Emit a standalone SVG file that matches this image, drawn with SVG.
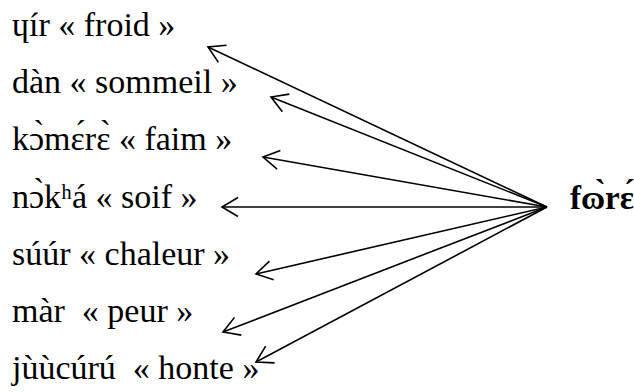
<svg xmlns="http://www.w3.org/2000/svg" width="634" height="392" viewBox="0 0 634 392">
<style>
.t{font-family:"Liberation Serif","DejaVu Serif",serif;font-size:34px;fill:#000;white-space:pre}
.b{font-weight:bold;font-size:33px}
.c{stroke:#000;stroke-width:1.6;fill:none;marker-end:url(#ah)}
</style>
<defs>
<marker id="ah" markerUnits="userSpaceOnUse" orient="auto" markerWidth="24" markerHeight="24" viewBox="-20 -12 24 24" refX="0" refY="0" overflow="visible">
<path d="M-16,-9.5 L0,0 L-16,9.5" fill="none" stroke="#000" stroke-width="1.6"/>
</marker>
</defs>
<rect width="634" height="392" fill="#fff"/>
<g id="connectors">
<line class="c" x1="547" y1="207" x2="208" y2="47"/>
<line class="c" x1="547" y1="207" x2="271" y2="97"/>
<line class="c" x1="547" y1="207" x2="263" y2="157"/>
<line class="c" x1="547" y1="207" x2="222" y2="207"/>
<line class="c" x1="547" y1="207" x2="256" y2="274"/>
<line class="c" x1="547" y1="207" x2="223" y2="332"/>
<line class="c" x1="547" y1="207" x2="256" y2="362"/>
</g>
<g id="froid"><text class="t" x="12" y="36">ɥír « froid »</text></g>
<g id="sommeil"><text class="t" x="12" y="93">dàn « sommeil »</text></g>
<g id="faim"><text class="t" x="12" y="150">kɔ̀mɛ́rɛ̀ « faim »</text></g>
<g id="soif"><text class="t" x="12" y="208">nɔ̀kʰá « soif »</text></g>
<g id="chaleur"><text class="t" x="12" y="265">súúr « chaleur »</text></g>
<g id="peur"><text class="t" x="12" y="322" xml:space="preserve">màr  « peur »</text></g>
<g id="honte"><text class="t" x="12" y="379" xml:space="preserve">jùùcúrú  « honte »</text></g>
<g id="fore"><text class="t b" x="570" y="209">fɷ̀rɛ́</text></g>
</svg>
